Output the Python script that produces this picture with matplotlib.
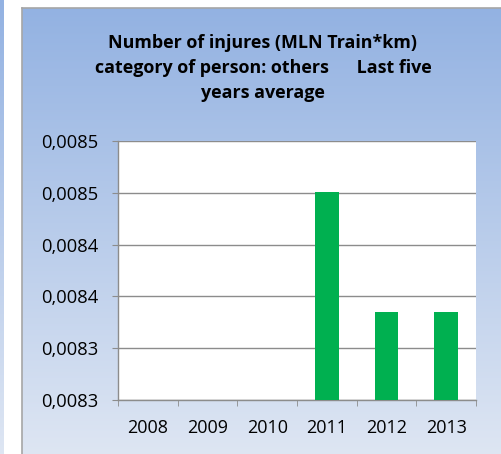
import matplotlib
matplotlib.use("Agg")
import matplotlib.pyplot as plt
import numpy as np
from matplotlib.ticker import FixedLocator

years = ["2008", "2009", "2010", "2011", "2012", "2013"]
values = [np.nan, np.nan, np.nan, 0.008501, 0.008385, 0.008385]
ytick_vals = [0.0083, 0.00835, 0.0084, 0.00845, 0.0085, 0.00855]
ytick_labels = ["0,0083", "0,0083", "0,0084", "0,0084", "0,0085", "0,0085"]
title = "Number of injures (MLN Train*km)\ncategory of person: others      Last five\nyears average"

W, H = 501, 454
fig = plt.figure(figsize=(W / 100, H / 100), dpi=100)
fig.patch.set_facecolor("white")

top = np.array([147, 178, 226]) / 255
bot = np.array([222, 230, 243]) / 255
grad = np.linspace(0, 1, 256)[:, None, None]
img = top * (1 - grad) + bot * grad

def px(x0, y0, x1, y1):
    return [x0 / W, 1 - y1 / H, (x1 - x0) / W, (y1 - y0) / H]

# left strip
sax = fig.add_axes(px(0, 0, 4, H))
sax.imshow(img, aspect="auto", extent=[0, 1, 0, 1])
sax.set_axis_off()

# main panel background
bg = fig.add_axes(px(22, 8, W + 2, H + 2))
bg.imshow(img, aspect="auto", extent=[0, 1, 0, 1])
bg.set_xticks([]); bg.set_yticks([])
for s in bg.spines.values():
    s.set_color("#a6a6a6")
    s.set_linewidth(1.2)

fig.text(263 / W, 1 - 34 / H, title, ha="center", va="top",
         fontsize=12.9, fontweight="bold", family="Open Sans",
         linespacing=1.5, color="black")

ax = fig.add_axes(px(118, 141, 476, 400))
ax.set_facecolor("white")
x = np.arange(len(years))
ax.bar(x, values, width=0.4, color="#00b050", zorder=3)
ax.set_xlim(-0.5, len(years) - 0.5)
ax.set_ylim(ytick_vals[0], ytick_vals[-1])
ax.set_yticks(ytick_vals)
ax.set_yticklabels(ytick_labels)
ax.yaxis.grid(True, color="#8c8c8c", linewidth=1.0, zorder=0)
ax.set_xticks(x)
ax.set_xticklabels(years)
ax.xaxis.set_minor_locator(FixedLocator(np.arange(-0.5, len(years), 1.0)))
ax.tick_params(axis="x", which="major", length=0, pad=14, labelsize=13)
ax.tick_params(axis="x", which="minor", length=4.3, color="#8c8c8c", direction="out")
ax.tick_params(axis="y", length=4.3, color="#8c8c8c", direction="out", pad=9.5, labelsize=13.2)
for lab in ax.get_xticklabels() + ax.get_yticklabels():
    lab.set_family("Open Sans")
for side in ["top", "right"]:
    ax.spines[side].set_visible(False)
for side in ["left", "bottom"]:
    ax.spines[side].set_color("#8c8c8c")
    ax.spines[side].set_linewidth(1.0)

fig.savefig("out.png", dpi=100)
